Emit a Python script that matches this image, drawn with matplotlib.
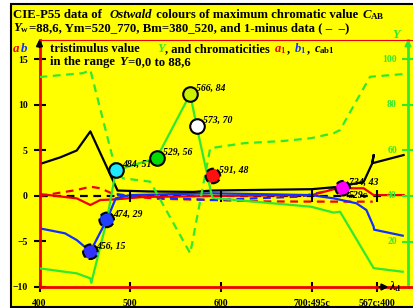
import numpy as np
import matplotlib
matplotlib.use("Agg")
import matplotlib.pyplot as plt
from matplotlib.patches import Rectangle
from matplotlib.lines import Line2D
from matplotlib.transforms import blended_transform_factory

plt.rcParams['font.family'] = 'Liberation Serif'
plt.rcParams['font.weight'] = 'bold'
plt.rcParams['mathtext.fontset'] = 'custom'
plt.rcParams['mathtext.rm'] = 'Liberation Serif:bold'
plt.rcParams['mathtext.it'] = 'Liberation Serif:italic:bold'
plt.rcParams['mathtext.bf'] = 'Liberation Serif:bold'

# ---- data (wavelength in nm, Y on right axis, a/b/c on left axis)
lam_Y = [400, 441, 456, 457, 474, 484, 492, 529, 566, 573, 590, 592, 699, 724, 731, 768, 800]
Y_val = [8.2, 6.0, 3.8, 1.8, 29, 51, 52.2, 56.7, 84.8, 70.8, 39.7, 39.1, 35.3, 32.7, 33.1, 8.3, 6.7]

lam_Ym = [400, 448, 456, 484, 492, 522, 566, 588, 625, 669, 699, 724, 731, 764, 801]
Ym_val = [92.3, 94.0, 95.4, 51.4, 47.8, 46.3, 14.8, 61.0, 63.2, 64.2, 65.4, 67.6, 69.0, 92.4, 93.6]

lam_c = [400, 423, 441, 456, 486, 520, 570, 590, 700, 728, 757, 766.5, 768, 766.5, 801]
c_val = [3.5, 4.25, 5.0, 7.1, 0.6, 0.5, 0.45, 0.6, 0.75, 1.0, 1.55, 3.6, 4.5, 3.6, 4.5]

lam_a = [400, 441, 456, 467, 484, 515, 590, 700, 728, 757, 768, 801]
a_val = [0.22, -0.26, -0.99, -0.44, -0.37, -0.1, 0.0, 0.1, 0.85, 0.85, 0.1, 0.1]

lam_am = [400, 441, 456, 467, 484, 530, 590, 650, 724, 767]
am_val = [0.0, 0.66, 1.02, 0.85, 0.1, -0.3, -0.44, -0.6, -0.62, -0.62]

lam_b = [400, 428, 441, 456, 474, 484, 500, 590, 699, 724, 749, 760, 768, 768.5, 800]
b_val = [-3.55, -4.1, -4.84, -6.1, -2.64, -0.26, 0.1, 0.3, 0.1, -0.26, -0.8, -1.54, -3.37, -3.7, -4.36]

lam_bm = [485, 500, 588, 687, 713, 724]
bm_val = [0.22, 0.0, -0.44, -0.07, 0.47, 0.84]

pt_lam = [456, 474, 484, 529, 566, 573, 591, 734]
pt_Y = [15.5, 29.5, 51.4, 56.7, 84.8, 70.8, 48.8, 43.4]
pt_lab = ['456, 15', '474, 29', '484, 51', '529, 56', '566, 84', '573, 70', '591, 48', '734, 43']
pt_col = ['#3030ff', '#2040ff', '#20e8ff', '#00dd00', '#ccf000', '#ffffff', '#ff1010', '#ff00ff']
pt_dashed = [True, True, False, False, False, False, True, True]

xt_pos = [400, 500, 600, 700, 772]
xt_lab = ['400', '500', '600', '700;495c', '567c;400']
yl_ticks = [-10, -5, 0, 5, 10, 15]
yr_ticks = [20, 40, 60, 80, 100]

W, H = 413, 308
AX_L, AX_R, AX_T, AX_B = 39.5, 408, 40, 287
GREEN = '#30e830'
RED = '#ee0000'
BLUE = '#1030ff'

fig = plt.figure(figsize=(W / 100, H / 100), dpi=100, facecolor='white')
fig.add_artist(Rectangle((11 / W, (H - 306.5) / H), 1.0, (306.5 - 4) / H,
                         transform=fig.transFigure, facecolor='#ffff00',
                         edgecolor='black', lw=1.5, zorder=0))

ax = fig.add_axes([AX_L / W, 1 - AX_B / H, (AX_R - AX_L) / W, (AX_B - AX_T) / H])
ax.set_facecolor('none')
x_max = 400 + (AX_R - AX_L) / 0.908
y_top = -10 + (AX_B - AX_T) / 9.1
ax.set_xlim(400, x_max)
ax.set_ylim(-10, y_top)

ax2 = ax.twinx()
ax2.set_facecolor('none')
ax2.set_ylim(0, 40 + 4 * y_top)

# curves
dash = (0, (3.5, 2.5))
ax2.plot(lam_Ym, Ym_val, color=GREEN, lw=1.6, ls=dash)
ax2.plot(lam_Y, Y_val, color=GREEN, lw=1.6)
ax.plot([400, 780], [0, 0], color='k', lw=1.6, ls=dash)
ax.plot(lam_am, am_val, color=RED, lw=1.6, ls=dash)
ax.plot(lam_bm, bm_val, color=BLUE, lw=1.6, ls=dash)
ax.plot(lam_a, a_val, color=RED, lw=1.6)
ax.plot(lam_b, b_val, color=BLUE, lw=1.6)
ax.plot(lam_c, c_val, color='k', lw=1.6)
ax.plot(xt_pos[1:], [0] * 4, ls='none', marker='|', ms=8, mew=1.5, color='k')

for lam, yv, lab, col, dsh in zip(pt_lam, pt_Y, pt_lab, pt_col, pt_dashed):
    ax2.scatter([lam], [yv], s=110, facecolor=col, edgecolor='k', lw=1.5,
                linestyle='--' if dsh else '-', zorder=5)
    ax2.annotate(lab, (lam, yv), xytext=(4.5, 4), textcoords='offset points',
                 fontsize=7, fontstyle='italic', va='center', zorder=6)
ax2.annotate('529c', (pt_lam[-1], pt_Y[-1]), xytext=(4.5, -5), textcoords='offset points',
             fontsize=7, fontstyle='italic', va='center', zorder=6)

# axes styling
for s in ['top', 'right']:
    ax.spines[s].set_visible(False)
for s in ['top', 'left', 'bottom']:
    ax2.spines[s].set_visible(False)
ax.spines['left'].set_color(RED)
ax.spines['left'].set_linewidth(2)
ax.spines['bottom'].set_color(RED)
ax.spines['bottom'].set_linewidth(2)
ax2.spines['right'].set_color(GREEN)
ax2.spines['right'].set_linewidth(2)

ax.set_yticks(yl_ticks)
ax.set_yticklabels([str(v).replace('-', '\u2212') for v in yl_ticks])
ax.tick_params(axis='y', direction='inout', length=9, width=1.5, color='k',
               labelsize=7, pad=4)
ax.set_xticks(xt_pos)
ax.set_xticklabels(xt_lab)
ax.tick_params(axis='x', direction='inout', length=7, width=1.5, color='k',
               labelsize=7, pad=5)

ax2.set_yticks(yr_ticks)
ax2.set_yticklabels([])
ax2.tick_params(axis='y', direction='inout', length=9, width=1.5, color=GREEN)
tr = blended_transform_factory(ax2.transAxes, ax2.transData)
for v in yr_ticks:
    ax2.text(0.97, v, str(v), transform=tr, ha='right', va='center',
             color=GREEN, fontsize=7)

# arrows
ax.annotate('', xy=(0, 1.015), xytext=(0, 0.96), xycoords='axes fraction',
            arrowprops=dict(arrowstyle='-|>', color='k', lw=1.5, mutation_scale=9))
ax.annotate('', xy=(1, 1.015), xytext=(1, 0.96), xycoords='axes fraction',
            arrowprops=dict(arrowstyle='-|>', color=GREEN, lw=1.5, mutation_scale=9))
ax.annotate('', xy=(0.955, 0), xytext=(0.915, 0), xycoords='axes fraction',
            arrowprops=dict(arrowstyle='-|>', color='k', lw=1.5, mutation_scale=9))

fig.add_artist(Line2D([AX_L / W, 1], [1 - AX_T / H] * 2, color=RED, lw=0.8))
fig.add_artist(Line2D([AX_R / W, 1], [1 - AX_B / H] * 2, color=RED, lw=2))

fig.text(389 / W, 1 - 287 / H, r'$\lambda_{\rm d}$', fontsize=9, va='center')
fig.text(392 / W, 1 - 38 / H, r'$Y$', fontsize=9, color=GREEN, va='baseline')

# texts with mixed colours
renderer = fig.canvas.get_renderer()


def advance(s, size, style):
    t1 = fig.text(0, 0, '|' + s + '|', fontsize=size, fontstyle=style)
    t2 = fig.text(0, 0, '||', fontsize=size)
    w = t1.get_window_extent(renderer).width - t2.get_window_extent(renderer).width
    t1.remove()
    t2.remove()
    return w


def put_parts(x, y, parts, size):
    # parts: (text, colour, style, fixed x or None)
    for s, col, style, x_fix in parts:
        if x_fix is not None:
            x = x_fix
        fig.text(x / W, 1 - y / H, s, color=col, fontsize=size, fontstyle=style,
                 va='baseline')
        x += advance(s, size, style) + 1.0


put_parts(13, 18.5, [('CIE-P55 data of  ', 'k', 'normal', None),
                     ('Ostwald', 'k', 'italic', 110),
                     (' colours of maximum chromatic value ', 'k', 'normal', None),
                     (r'$C_{\rm AB}$', 'k', 'normal', 362)], 9.2)
put_parts(13, 31, [(r'$Y_{\rm w}$', 'k', 'normal', None),
                   ('=88,6, Ym=520_770, Bm=380_520, and 1-minus data ( \u2013  \u2013)', 'k', 'normal', None)], 9.2)
put_parts(13, 52, [('a', RED, 'italic', None), ('b', BLUE, 'italic', 21)], 9.3)
put_parts(50, 52, [('tristimulus value', 'k', 'normal', 50),
                   ('Y', GREEN, 'italic', 157),
                   (', and chromaticities ', 'k', 'normal', None),
                   (r'$a_1$', RED, 'normal', None),
                   (', ', 'k', 'normal', None),
                   (r'$b_1$', BLUE, 'normal', None),
                   (', ', 'k', 'normal', None),
                   (r'$c_{\rm ab1}$', 'k', 'normal', None)], 9.0)
put_parts(50, 65, [('in the range ', 'k', 'normal', None),
                   ('Y', 'k', 'italic', None),
                   ('=0,0 to 88,6', 'k', 'normal', None)], 9.2)

fig.savefig('out.png', dpi=100, facecolor='white')
